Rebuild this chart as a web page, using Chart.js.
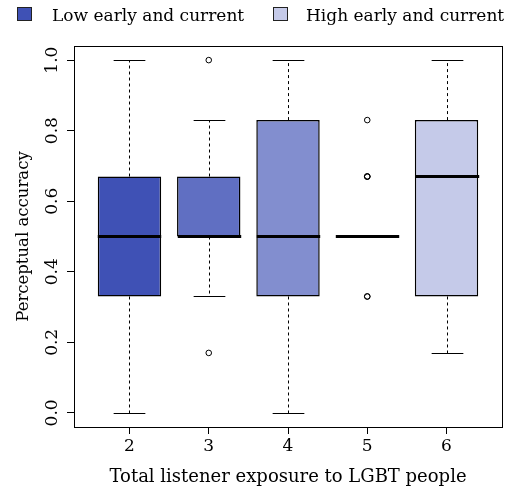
<!DOCTYPE html>
<html>
<head>
<meta charset="utf-8">
<script src="https://cdn.jsdelivr.net/npm/chart.js@4/dist/chart.umd.min.js"></script>
<style>
  html, body { margin: 0; padding: 0; background: #ffffff; }
  canvas { display: block; }
</style>
</head>
<body>
<canvas id="chart" width="509" height="494"></canvas>
<script>
// Groups: total listener exposure to LGBT people
const exposure = ['2', '3', '4', '5', '6'];

// Five-number summaries of perceptual accuracy per group
const lowerWhisker  = [0.00, 0.33, 0.00, 0.50, 0.17];
const lowerQuartile = [0.33, 0.50, 0.33, 0.50, 0.33];
const medians       = [0.50, 0.50, 0.50, 0.50, 0.67];
const upperQuartile = [0.67, 0.67, 0.83, 0.50, 0.83];
const upperWhisker  = [1.00, 0.83, 1.00, 0.50, 1.00];

// Outlying observations (group label, value)
const outlierGroup = ['3', '3', '5', '5', '5', '5', '5', '5'];
const outlierValue = [1.00, 0.17, 0.83, 0.67, 0.67, 0.67, 0.33, 0.33];

// Axis ticks
const yTickValues = [0, 0.2, 0.4, 0.6, 0.8, 1.0];
const yTickLabels = ['0.0', '0.2', '0.4', '0.6', '0.8', '1.0'];

// Fill ramp from low to high exposure
const boxColors = ['#3F51B5', '#606FC2', '#828ECF', '#A4ACDC', '#C5CAE9'];

// Legend entries
const legendLabels = ['Low early and current', 'High early and current'];
const legendColors = ['#3F51B5', '#C5CAE9'];

const FONT = '"DejaVu Serif", "Liberation Serif", serif';
const TICK_SIZE = 17;
const LEGEND_SIZE = 17;

const groupPos = (g) => exposure.indexOf(g) + 1;

// Whiskers, caps, medians, frame, rotated y labels and the legend
const boxplotParts = {
  id: 'boxplotParts',
  afterDatasetsDraw(chart) {
    const { ctx, scales: { x, y } } = chart;
    const unit = x.getPixelForValue(2) - x.getPixelForValue(1);
    const boxHalf = unit * 0.4;
    const capHalf = boxHalf / 2;
    ctx.save();
    ctx.strokeStyle = '#000';
    exposure.forEach((g, i) => {
      const cx = Math.round(x.getPixelForValue(i + 1)) + 0.5;
      const yLoW = Math.round(y.getPixelForValue(lowerWhisker[i])) + 0.5;
      const yQ1 = y.getPixelForValue(lowerQuartile[i]);
      const yQ3 = y.getPixelForValue(upperQuartile[i]);
      const yHiW = Math.round(y.getPixelForValue(upperWhisker[i])) + 0.5;
      // dashed whiskers
      ctx.lineWidth = 1;
      ctx.setLineDash([3, 3]);
      ctx.beginPath();
      ctx.moveTo(cx, yQ3); ctx.lineTo(cx, yHiW);
      ctx.moveTo(cx, yQ1); ctx.lineTo(cx, yLoW);
      ctx.stroke();
      // caps
      ctx.setLineDash([]);
      ctx.beginPath();
      ctx.moveTo(cx - capHalf, yHiW); ctx.lineTo(cx + capHalf, yHiW);
      ctx.moveTo(cx - capHalf, yLoW); ctx.lineTo(cx + capHalf, yLoW);
      ctx.stroke();
      // median
      const yMed = y.getPixelForValue(medians[i]);
      ctx.lineWidth = 3;
      ctx.lineCap = 'butt';
      ctx.beginPath();
      ctx.moveTo(cx - boxHalf, yMed); ctx.lineTo(cx + boxHalf, yMed);
      ctx.stroke();
    });
    ctx.restore();
  },
  afterDraw(chart) {
    const { ctx, chartArea: a, scales: { y } } = chart;
    ctx.save();
    // plot frame
    ctx.strokeStyle = '#000';
    ctx.lineWidth = 1;
    ctx.strokeRect(a.left + 0.5, a.top + 0.5, a.right - a.left, a.bottom - a.top);

    // y tick labels, parallel to the axis
    ctx.fillStyle = '#000';
    ctx.font = TICK_SIZE + 'px ' + FONT;
    ctx.textAlign = 'center';
    ctx.textBaseline = 'alphabetic';
    yTickValues.forEach((v, i) => {
      const py = y.getPixelForValue(v);
      ctx.save();
      ctx.translate(a.left - 17, py);
      ctx.rotate(-Math.PI / 2);
      ctx.fillText(yTickLabels[i], 0, 0);
      ctx.restore();
    });

    // legend above the plot
    const entries = [{ bx: 17, tx: 52 }, { bx: 273, tx: 306 }];
    ctx.font = LEGEND_SIZE + 'px ' + FONT;
    ctx.textAlign = 'left';
    entries.forEach((e, i) => {
      ctx.fillStyle = legendColors[i];
      ctx.fillRect(e.bx + 0.5, 7.5, 14, 13);
      ctx.strokeStyle = '#222';
      ctx.lineWidth = 1;
      ctx.strokeRect(e.bx + 0.5, 7.5, 14, 13);
      ctx.fillStyle = '#000';
      ctx.fillText(legendLabels[i], e.tx, 20.5);
    });
    ctx.restore();
  }
};

const boxData = exposure.map((g, i) => ({ x: i + 1, y: [lowerQuartile[i], upperQuartile[i]] }));
const outlierData = outlierGroup.map((g, i) => ({ x: groupPos(g), y: outlierValue[i] }));

new Chart(document.getElementById('chart'), {
  type: 'bar',
  data: {
    datasets: [
      {
        type: 'bar',
        data: boxData,
        backgroundColor: boxColors,
        borderColor: '#000',
        borderWidth: 1.5,
        borderSkipped: false,
        barPercentage: 0.8,
        categoryPercentage: 1,
        order: 2
      },
      {
        type: 'scatter',
        data: outlierData,
        pointStyle: 'circle',
        pointRadius: 2.8,
        pointBorderWidth: 1,
        pointBorderColor: '#000',
        pointBackgroundColor: 'rgba(0,0,0,0)',
        order: 1
      }
    ]
  },
  options: {
    responsive: false,
    devicePixelRatio: 1,
    animation: false,
    layout: { padding: { top: 46, right: 7, bottom: 0, left: 0 } },
    plugins: {
      legend: { display: false },
      tooltip: { enabled: false }
    },
    scales: {
      x: {
        type: 'linear',
        min: 0.3,
        max: 5.7,
        offset: false,
        afterBuildTicks: (s) => { s.ticks = exposure.map((g, i) => ({ value: i + 1 })); },
        afterFit: (s) => { s.height = 67; },
        grid: { display: true, offset: false, drawOnChartArea: false, drawTicks: true, tickLength: 7, color: '#000' },
        border: { display: false },
        ticks: {
          padding: 2,
          color: '#000',
          font: { family: FONT, size: TICK_SIZE },
          maxRotation: 0,
          callback: (v) => exposure[Math.round(v) - 1]
        },
        title: {
          display: true,
          text: 'Total listener exposure to LGBT people',
          color: '#000',
          font: { family: FONT, size: 18 },
          padding: { top: 0, bottom: 6 }
        }
      },
      y: {
        type: 'linear',
        min: -0.04,
        max: 1.04,
        afterBuildTicks: (s) => { s.ticks = yTickValues.map((v) => ({ value: v })); },
        afterFit: (s) => { s.width = 74; },
        grid: { display: true, drawOnChartArea: false, drawTicks: true, tickLength: 7, color: '#000' },
        border: { display: false },
        ticks: { display: false },
        title: {
          display: true,
          text: 'Perceptual accuracy',
          color: '#000',
          font: { family: FONT, size: 16.5 },
          padding: { top: 14, bottom: 0 }
        }
      }
    }
  },
  plugins: [boxplotParts]
});
</script>
</body>
</html>
